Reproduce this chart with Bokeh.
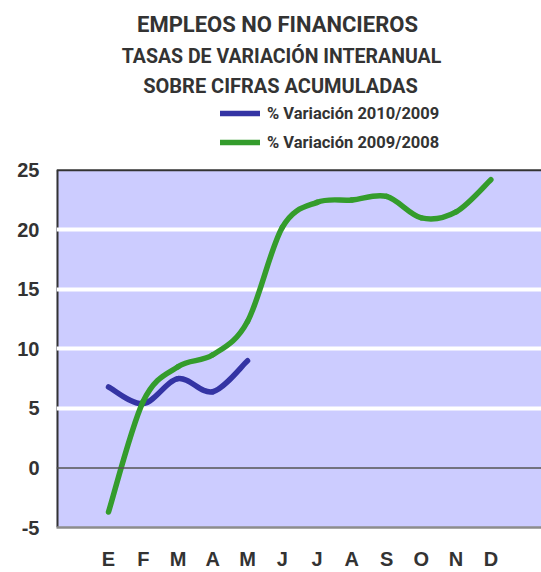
from bokeh.plotting import figure
from bokeh.models import (Range1d, FixedTicker, Span, Label, ColumnDataSource,
                          Legend, LegendItem, BoxAnnotation)
from bokeh.embed import file_html
from bokeh.resources import INLINE

# ---- data ----
months = ["E", "F", "M", "A", "M", "J", "J", "A", "S", "O", "N", "D"]
var_2010_2009 = [6.8, 5.4, 7.5, 6.4, 9.0]
var_2009_2008 = [-3.7, 5.6, 8.5, 9.5, 12.3, 20.2, 22.3, 22.5, 22.8, 21.0, 21.5, 24.2]
y_ticks = [-5, 0, 5, 10, 15, 20, 25]
title_lines = ["EMPLEOS NO FINANCIEROS", "TASAS DE VARIACIÓN INTERANUAL", "SOBRE CIFRAS ACUMULADAS"]
series_names = ["% Variación 2010/2009", "% Variación 2009/2008"]

BLUE = "#3434A4"
GREEN = "#349C2C"
TXT = "#333333"
TFONT = "Roboto"

Y_LO, Y_HI = y_ticks[0], y_ticks[-1]
X_LO, X_HI = -1.496, 12.457
Y_TOP = 39.246          # room above the plot area for the titles and legend


def smooth(ys):
    """Bezier segments through the data points (Catmull-Rom style smoothing)."""
    xs = list(range(len(ys)))
    n = len(ys)
    d = dict(x0=[], y0=[], x1=[], y1=[], cx0=[], cy0=[], cx1=[], cy1=[])
    for i in range(n - 1):
        im = max(i - 1, 0)
        ip = min(i + 2, n - 1)
        d["x0"].append(xs[i]); d["y0"].append(ys[i])
        d["x1"].append(xs[i + 1]); d["y1"].append(ys[i + 1])
        d["cx0"].append(xs[i] + (xs[i + 1] - xs[im]) / 6)
        d["cy0"].append(ys[i] + (ys[i + 1] - ys[im]) / 6)
        d["cx1"].append(xs[i + 1] - (xs[ip] - xs[i]) / 6)
        d["cy1"].append(ys[i + 1] - (ys[ip] - ys[i]) / 6)
    return ColumnDataSource(d)


p = figure(width=541, height=572, output_backend="svg", toolbar_location=None,
           x_range=Range1d(X_LO, X_HI), y_range=Range1d(Y_LO, Y_TOP),
           min_border_left=56, min_border_right=0, min_border_top=0, min_border_bottom=44)
p.background_fill_color = "white"
p.border_fill_color = "white"
p.outline_line_color = None

# plot-area background
p.add_layout(BoxAnnotation(bottom=Y_LO, top=Y_HI, fill_color="#CCCCFF", fill_alpha=1,
                           line_color=None, level="image"))

# grid
p.xgrid.visible = False
p.ygrid.ticker = FixedTicker(ticks=[t for t in y_ticks if t not in (0, Y_HI)])
p.ygrid.grid_line_color = "white"
p.ygrid.grid_line_width = 4

# borders (top and left)
p.segment(x0=[X_LO, X_LO], y0=[Y_HI, Y_LO], x1=[X_HI, X_LO], y1=[Y_HI, Y_HI],
          line_color=TXT, line_width=[2, 4], level="underlay")

# y axis
p.yaxis.ticker = FixedTicker(ticks=y_ticks)
p.yaxis.major_label_overrides = {t: str(t) for t in y_ticks}
p.yaxis.axis_line_color = None
p.yaxis.major_tick_line_color = None
p.yaxis.minor_tick_line_color = None
p.yaxis.major_tick_out = 0
p.yaxis.major_label_standoff = 17
p.yaxis.major_label_text_font = "Liberation Sans"
p.yaxis.major_label_text_font_style = "bold"
p.yaxis.major_label_text_font_size = "20px"
p.yaxis.major_label_text_color = TXT

# x axis with month labels
p.xaxis.ticker = FixedTicker(ticks=list(range(len(months))))
p.xaxis.major_label_overrides = {i: m for i, m in enumerate(months)}
p.xaxis.axis_line_color = "#8C8C8C"
p.xaxis.axis_line_width = 2.5
p.xaxis.major_tick_line_color = None
p.xaxis.minor_tick_line_color = None
p.xaxis.major_tick_out = 0
p.xaxis.major_label_standoff = 20
p.xaxis.major_label_text_font = "Liberation Sans"
p.xaxis.major_label_text_font_style = "bold"
p.xaxis.major_label_text_font_size = "20px"
p.xaxis.major_label_text_color = TXT

# zero line
p.add_layout(Span(location=0, dimension="width", line_color="#555555", line_width=1.5))

# series
r_blue = p.bezier(x0="x0", y0="y0", x1="x1", y1="y1", cx0="cx0", cy0="cy0", cx1="cx1", cy1="cy1",
                  source=smooth(var_2010_2009), line_color=BLUE, line_width=5.5, line_cap="round")
r_green = p.bezier(x0="x0", y0="y0", x1="x1", y1="y1", cx0="cx0", cy0="cy0", cx1="cx1", cy1="cy1",
                   source=smooth(var_2009_2008), line_color=GREEN, line_width=5.5, line_cap="round")

# titles (screen units relative to the frame's bottom-left corner)
for txt, x, y, size in zip(title_lines, [221, 225, 224], [503, 471, 442], ["22px", "19.5px", "20px"]):
    p.add_layout(Label(x=x, y=y, x_units="screen", y_units="screen", text=txt,
                       text_align="center", text_baseline="middle", text_font=TFONT,
                       text_font_style="bold", text_font_size=size, text_color=TXT))

legend = Legend(items=[LegendItem(label=series_names[0], renderers=[r_blue]),
                       LegendItem(label=series_names[1], renderers=[r_green])],
                location=(164, 375), orientation="vertical", glyph_width=40, glyph_height=20,
                spacing=9, label_standoff=7, padding=0, margin=0,
                border_line_color=None, background_fill_alpha=0,
                label_text_font=TFONT, label_text_font_style="bold",
                label_text_font_size="16.5px", label_text_color=TXT)
p.add_layout(legend, "center")

open("out.html", "w").write(file_html(p, INLINE))
